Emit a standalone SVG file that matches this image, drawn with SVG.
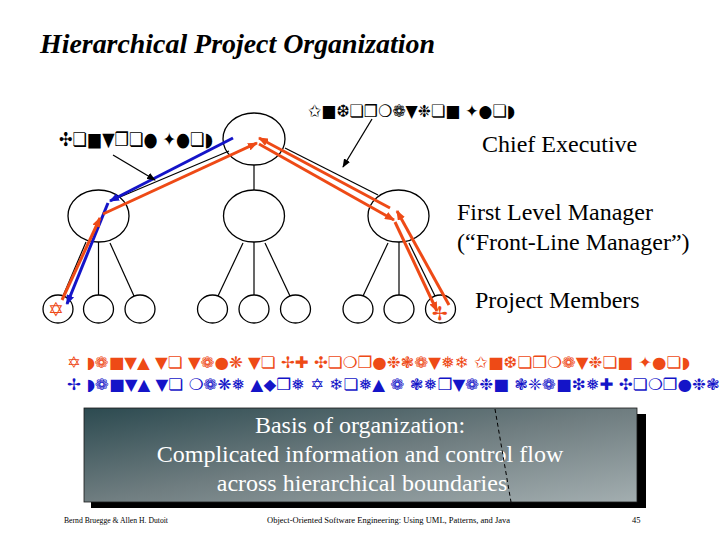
<svg xmlns="http://www.w3.org/2000/svg" width="720" height="540" viewBox="0 0 720 540">
<style>
.node{fill:none;stroke:#000;stroke-width:1.3}
.edge{stroke:#000;stroke-width:1.2;fill:none}
.red{stroke:#ee4a16;stroke-width:3;fill:none;marker-end:url(#ar)}
.blue{stroke:#1414c8;stroke-width:3;fill:none;marker-end:url(#ab)}
.ann{stroke:#000;stroke-width:1.3;fill:none;marker-end:url(#ak)}
.lbl{font-family:"Liberation Serif","Times New Roman",serif;font-size:24px;fill:#000}
.ding{font-family:"DejaVu Sans",sans-serif}
.boxt{font-family:"Liberation Serif","Times New Roman",serif;font-size:24px;fill:#fff;text-anchor:middle}
.foot{font-family:"Liberation Serif","Times New Roman",serif;font-size:8.5px;fill:#000}
</style>
<defs>
<marker id="ar" viewBox="0 0 10 8" refX="9" refY="4" markerWidth="10" markerHeight="8" markerUnits="userSpaceOnUse" orient="auto"><path d="M0,0 L10,4 L0,8 z" fill="#ee4a16"/></marker>
<marker id="ab" viewBox="0 0 10 8" refX="9" refY="4" markerWidth="10" markerHeight="8" markerUnits="userSpaceOnUse" orient="auto"><path d="M0,0 L10,4 L0,8 z" fill="#1414c8"/></marker>
<marker id="ak" viewBox="0 0 10 8" refX="9" refY="4" markerWidth="9" markerHeight="7" markerUnits="userSpaceOnUse" orient="auto"><path d="M0,0 L10,4 L0,8 z" fill="#000"/></marker>
<linearGradient id="g" x1="0" y1="0" x2="1" y2="1"><stop offset="0" stop-color="#2c4a50"/><stop offset="0.5" stop-color="#6f7d80"/><stop offset="1" stop-color="#a3aeb0"/></linearGradient>
</defs>
<rect width="720" height="540" fill="#fff"/>
<text x="40" y="53" font-family="Liberation Serif,'Times New Roman',serif" font-size="28" font-weight="bold" font-style="italic" textLength="395" lengthAdjust="spacingAndGlyphs">Hierarchical Project Organization</text>

<g id="tree-edges">
<line class="edge" x1="254" y1="165" x2="254" y2="190"/>
<line class="edge" x1="229" y1="151" x2="120" y2="197"/>
<line class="edge" x1="285" y1="148" x2="378" y2="195"/>
<line class="edge" x1="86" y1="242" x2="63" y2="296"/>
<line class="edge" x1="98.5" y1="242" x2="98.5" y2="295"/>
<line class="edge" x1="110" y1="243" x2="134" y2="296"/>
<line class="edge" x1="243" y1="243" x2="218" y2="296"/>
<line class="edge" x1="254" y1="242" x2="254" y2="295"/>
<line class="edge" x1="265" y1="243" x2="290" y2="296"/>
<line class="edge" x1="388" y1="243" x2="363" y2="296"/>
<line class="edge" x1="399" y1="242" x2="399" y2="295"/>
<line class="edge" x1="409" y1="243" x2="435" y2="296"/>
</g>

<g id="chief"><ellipse class="node" cx="254" cy="139" rx="31" ry="26"/></g>
<g id="mgr-left"><ellipse class="node" cx="98.5" cy="216" rx="30.5" ry="26"/></g>
<g id="mgr-mid"><ellipse class="node" cx="254" cy="216" rx="30.5" ry="26"/></g>
<g id="mgr-right"><ellipse class="node" cx="398.5" cy="216" rx="30.5" ry="26"/></g>
<g id="m1"><ellipse class="node" cx="58" cy="309" rx="15" ry="14"/><text class="ding" x="56" y="316" font-size="19" fill="#ee4a16" text-anchor="middle">✡</text></g>
<g id="m2"><ellipse class="node" cx="98.5" cy="309" rx="15" ry="14"/></g>
<g id="m3"><ellipse class="node" cx="140" cy="309" rx="15" ry="14"/></g>
<g id="m4"><ellipse class="node" cx="212.5" cy="309" rx="15" ry="14"/></g>
<g id="m5"><ellipse class="node" cx="254" cy="309" rx="15" ry="14"/></g>
<g id="m6"><ellipse class="node" cx="295.5" cy="309" rx="15" ry="14"/></g>
<g id="m7"><ellipse class="node" cx="358" cy="309" rx="15" ry="14"/></g>
<g id="m8"><ellipse class="node" cx="399" cy="309" rx="15" ry="14"/></g>
<g id="m9"><ellipse class="node" cx="440.5" cy="309" rx="15" ry="14"/><text class="ding" x="440" y="320" font-size="19" fill="#ee4a16" text-anchor="middle">✢</text></g>

<g id="connectors">
<line class="blue" x1="233" y1="138" x2="110" y2="201"/>
<line class="blue" x1="108" y1="203" x2="67" y2="304"/>
<line class="red" x1="62" y1="300" x2="100" y2="218"/>
<line class="red" x1="103" y1="214" x2="257" y2="143"/>
<line class="red" x1="259" y1="144" x2="394" y2="220"/>
<line class="red" x1="395" y1="222" x2="437" y2="311"/>
<line class="red" x1="449" y1="305" x2="397" y2="211"/>
<line class="red" x1="390" y1="208" x2="259" y2="138"/>
<line class="ann" x1="113" y1="155" x2="155" y2="180"/>
<line class="ann" x1="372" y1="119" x2="343" y2="167"/>
</g>

<g id="labels">
<text class="ding" x="59" y="146" font-size="19" textLength="154" lengthAdjust="spacingAndGlyphs">✣❏■▼❒❏● ✦●❏◗</text>
<text class="ding" x="308" y="117" font-size="17" textLength="207" lengthAdjust="spacingAndGlyphs">✩■❆❏❒❍❁▼❉❏■ ✦●❏◗</text>
<text class="lbl" x="482" y="152">Chief Executive</text>
<text class="lbl" x="457" y="220">First Level Manager</text>
<text class="lbl" x="457" y="250">(“Front-Line Manager”)</text>
<text class="lbl" x="475" y="308">Project Members</text>
<text class="ding" x="67" y="368" font-size="16" fill="#ee4a16" textLength="623" lengthAdjust="spacingAndGlyphs">✡ ◗❁■▼▲ ▼❏ ▼❁●❋ ▼❏ ✢✚ ✣❏❍❐●❉❃❁▼❅❄ ✩■❆❏❒❍❁▼❉❏■ ✦●❏◗</text>
<text class="ding" x="67" y="390" font-size="16" fill="#1414c8" textLength="872" lengthAdjust="spacingAndGlyphs">✢ ◗❁■▼▲ ▼❏ ❍❁❋❅ ▲◆❒❅ ✡ ❄❏❅▲ ❁ ❃❅❒▼❁❉■ ❃❈❁■❇❅✚ ✣❏❍❐●❉❃❁▼❅❄ ✣❏■▼❒❏● ✦●❏◗</text>
</g>

<g id="basis-box">
<rect x="91" y="414" width="555" height="94" fill="#000"/>
<rect x="84" y="408" width="553" height="94" fill="url(#g)" stroke="#1a1a1a" stroke-width="0.8"/>
<text class="boxt" x="360" y="433">Basis of organization:</text>
<text class="boxt" x="360" y="462">Complicated information and control flow</text>
<text class="boxt" x="362" y="491">across hierarchical boundaries</text>
<line x1="495" y1="409" x2="511" y2="502" stroke="#000" stroke-width="1" stroke-dasharray="4,3"/>
</g>

<g id="footer">
<text class="foot" x="64" y="523" textLength="104" lengthAdjust="spacingAndGlyphs">Bernd Bruegge &amp; Allen H. Dutoit</text>
<text class="foot" x="267" y="523" textLength="243" lengthAdjust="spacingAndGlyphs">Object-Oriented Software Engineering: Using UML, Patterns, and Java</text>
<text class="foot" x="632" y="523">45</text>
</g>
</svg>
